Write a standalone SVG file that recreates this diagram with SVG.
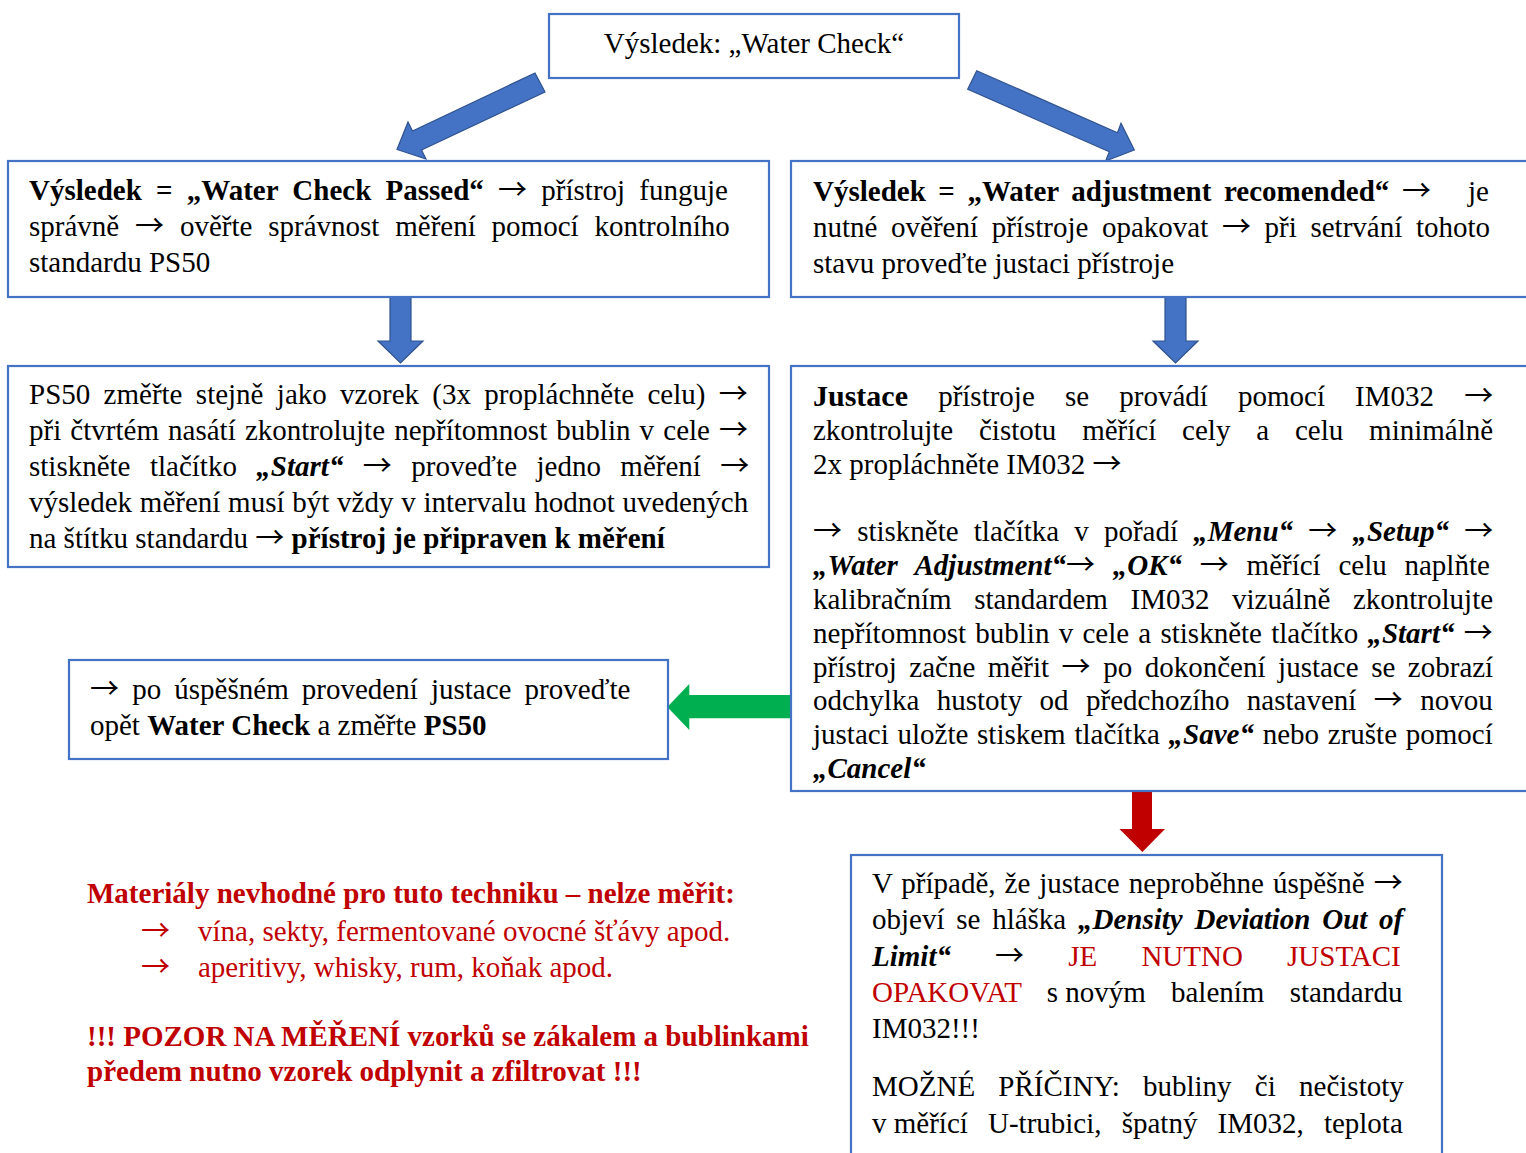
<svg xmlns="http://www.w3.org/2000/svg" width="1526" height="1153" viewBox="0 0 1526 1153">
<style>
.box{fill:none;stroke:#4472C4;stroke-width:2.2}
.t{font-family:"Liberation Serif","Times New Roman","DejaVu Serif",serif;font-size:29px;fill:#000}
.b{font-weight:bold}
.bi{font-weight:bold;font-style:italic}
.red{fill:#C00000}
.ar{font-family:"Noto Sans CJK JP","DejaVu Serif",serif;font-weight:normal;font-style:normal}
.blue{fill:#4472C4;stroke:#2F528F;stroke-width:1.2;stroke-linejoin:miter}
</style>
<rect x="0" y="0" width="1526" height="1153" fill="#fff"/>
<g id="connectors">
<polygon class="blue" points="535,73 412.5,131 408,122 397,149.5 426,159 421.5,150 545,92"/>
<polygon class="blue" points="976.7,70.7 1117.5,132.7 1121,123.3 1134.3,150 1105.7,161 1109.3,151.7 967.7,89.3"/>
<polygon class="blue" points="390,297 411,297 411,341 423,341 400.5,363 378,341 390,341"/>
<polygon class="blue" points="1165,297 1186,297 1186,341 1198,341 1175.5,363 1153,341 1165,341"/>
<polygon fill="#00B050" points="791,695 791,718.3 689.3,718.3 689.3,730 667.3,707 689.3,684 689.3,695"/>
<polygon fill="#C00000" points="1132,790 1152,790 1152,829 1165,829 1142.4,852 1119.5,829 1132,829"/>
</g>
<g id="n-top">
<rect class="box" x="549" y="14" width="410" height="64"/>
<text class="t" x="754" y="53" text-anchor="middle">Výsledek: „Water Check“</text>
</g>
<g id="n-passed">
<rect class="box" x="8" y="161" width="761" height="136"/>
<text class="t" x="29" y="200" word-spacing="7"><tspan class="b">Výsledek = „Water Check Passed“</tspan> <tspan class="ar">→</tspan> přístroj funguje</text>
<text class="t" x="29" y="236" word-spacing="8.6">správně <tspan class="ar">→</tspan> ověřte správnost měření pomocí kontrolního</text>
<text class="t" x="29" y="272">standardu PS50</text>
</g>
<g id="n-recommended">
<rect class="box" x="791" y="161" width="745" height="136"/>
<text class="t" x="813" y="201" word-spacing="5.3"><tspan class="b">Výsledek = „Water adjustment recomended“</tspan> <tspan class="ar">→</tspan><tspan x="1468">je</tspan></text>
<text class="t" x="813" y="237" word-spacing="6.4">nutné ověření přístroje opakovat <tspan class="ar">→</tspan> při setrvání tohoto</text>
<text class="t" x="813" y="273">stavu proveďte justaci přístroje</text>
</g>
<g id="n-ps50">
<rect class="box" x="8" y="366" width="761" height="201"/>
<text class="t" x="29" y="404" word-spacing="6.1">PS50 změřte stejně jako vzorek (3x propláchněte celu) <tspan class="ar">→</tspan></text>
<text class="t" x="29" y="440" word-spacing="1.9">při čtvrtém nasátí zkontrolujte nepřítomnost bublin v cele <tspan class="ar">→</tspan></text>
<text class="t" x="29" y="476" word-spacing="12.2">stiskněte tlačítko <tspan class="bi">„Start“</tspan> <tspan class="ar">→</tspan> proveďte jedno měření <tspan class="ar">→</tspan></text>
<text class="t" x="29" y="512" word-spacing="0.5">výsledek měření musí být vždy v intervalu hodnot uvedených</text>
<text class="t" x="29" y="548">na štítku standardu <tspan class="ar">→</tspan> <tspan class="b">přístroj je připraven k měření</tspan></text>
</g>
<g id="n-justace">
<rect class="box" x="791" y="366" width="745" height="425"/>
<text class="t" x="813" y="406" word-spacing="22.9"><tspan class="b" font-size="30">Justace</tspan> přístroje se provádí pomocí IM032 <tspan class="ar">→</tspan></text>
<text class="t" x="813" y="440" word-spacing="18.6">zkontrolujte čistotu měřící cely a celu minimálně</text>
<text class="t" x="813" y="474">2x propláchněte IM032 <tspan class="ar">→</tspan></text>
<text class="t" x="813" y="541" word-spacing="7.9"><tspan class="ar">→</tspan> stiskněte tlačítka v pořadí <tspan class="bi">„Menu“</tspan> <tspan class="ar">→</tspan> <tspan class="bi">„Setup“</tspan> <tspan class="ar">→</tspan></text>
<text class="t" x="813" y="575" word-spacing="10.5"><tspan class="bi">„Water Adjustment“</tspan><tspan class="ar">→</tspan> <tspan class="bi">„OK“</tspan> <tspan class="ar">→</tspan> měřící celu naplňte</text>
<text class="t" x="813" y="609" word-spacing="15.4">kalibračním standardem IM032 vizuálně zkontrolujte</text>
<text class="t" x="813" y="643" word-spacing="2">nepřítomnost bublin v cele a stiskněte tlačítko <tspan class="bi">„Start“</tspan> <tspan class="ar">→</tspan></text>
<text class="t" x="813" y="677" word-spacing="5.3">přístroj začne měřit <tspan class="ar">→</tspan> po dokončení justace se zobrazí</text>
<text class="t" x="813" y="710" word-spacing="10.2">odchylka hustoty od předchozího nastavení <tspan class="ar">→</tspan> novou</text>
<text class="t" x="813" y="744" word-spacing="1.5">justaci uložte stiskem tlačítka <tspan class="bi">„Save“</tspan> nebo zrušte pomocí</text>
<text class="t" x="813" y="778"><tspan class="bi">„Cancel“</tspan></text>
</g>
<g id="n-recheck">
<rect class="box" x="69" y="660" width="599" height="99"/>
<text class="t" x="90" y="699" word-spacing="5.9"><tspan class="ar">→</tspan> po úspěšném provedení justace proveďte</text>
<text class="t" x="90" y="735">opět <tspan class="b">Water Check</tspan> a změřte <tspan class="b">PS50</tspan></text>
</g>
<g id="n-materials">
<text class="t b red" x="87" y="903">Materiály nevhodné pro tuto techniku – nelze měřit:</text>
<text class="t red" x="141" y="941"><tspan class="ar">→</tspan></text>
<text class="t red" x="198" y="941">vína, sekty, fermentované ovocné šťávy apod.</text>
<text class="t red" x="141" y="977"><tspan class="ar">→</tspan></text>
<text class="t red" x="198" y="977">aperitivy, whisky, rum, koňak apod.</text>
<text class="t b red" x="87" y="1046">!!! POZOR NA MĚŘENÍ vzorků se zákalem a bublinkami</text>
<text class="t b red" x="87" y="1081">předem nutno vzorek odplynit a zfiltrovat !!!</text>
</g>
<g id="n-failed">
<rect class="box" x="851" y="855" width="591" height="320"/>
<text class="t" x="872" y="893" word-spacing="1.7">V případě, že justace neproběhne úspěšně <tspan class="ar">→</tspan></text>
<text class="t" x="872" y="929" word-spacing="4.5">objeví se hláška <tspan class="bi">„Density Deviation Out of</tspan></text>
<text class="t" x="872" y="966" word-spacing="36.9"><tspan class="bi">Limit“</tspan> <tspan class="ar">→</tspan> <tspan class="red">JE NUTNO JUSTACI</tspan></text>
<text class="t" x="872" y="1002" word-spacing="18"><tspan class="red">OPAKOVAT</tspan> <tspan word-spacing="0">s novým</tspan> balením standardu</text>
<text class="t" x="872" y="1038">IM032!!!</text>
<text class="t" x="872" y="1096" word-spacing="16">MOŽNÉ PŘÍČINY: bubliny či nečistoty</text>
<text class="t" x="872" y="1133" word-spacing="12.9"><tspan word-spacing="0">v měřící</tspan> U-trubici, špatný IM032, teplota</text>
</g>
</svg>
